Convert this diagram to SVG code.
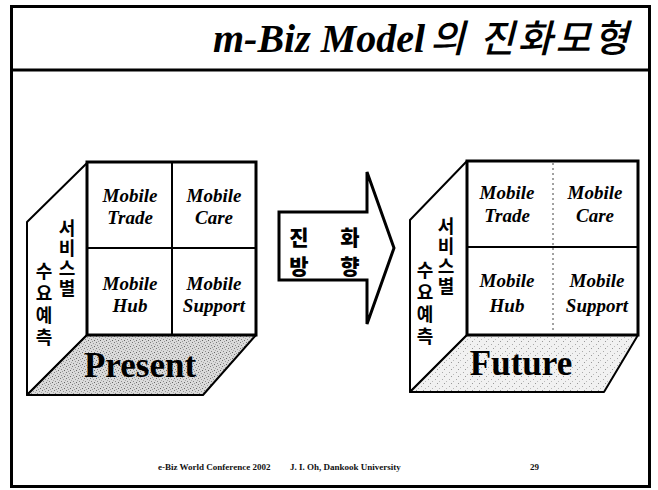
<svg xmlns="http://www.w3.org/2000/svg" width="658" height="490" viewBox="0 0 658 490">
  <defs>
    <!-- stippled floor of the "Present" box -->
    <pattern id="stipple" width="6" height="6" patternUnits="userSpaceOnUse">
      <rect width="6" height="6" fill="#dadada"/>
      <rect x="0" y="0" width="1" height="1" fill="#777"/>
      <rect x="3" y="1" width="1" height="1" fill="#999"/>
      <rect x="1" y="3" width="1" height="1" fill="#888"/>
      <rect x="4" y="4" width="1" height="1" fill="#666"/>
      <rect x="5" y="2" width="1" height="1" fill="#aaa"/>
      <rect x="2" y="5" width="1" height="1" fill="#999"/>
    </pattern>
    <!-- lighter stipple for the "Future" floor -->
    <pattern id="stippleLight" width="7" height="7" patternUnits="userSpaceOnUse">
      <rect width="7" height="7" fill="#f1f1f1"/>
      <rect x="1" y="1" width="1" height="1" fill="#aaa"/>
      <rect x="5" y="3" width="1" height="1" fill="#bbb"/>
      <rect x="3" y="5" width="1" height="1" fill="#999"/>
    </pattern>
  </defs>
  <style>
    .frame { fill: none; stroke: #000; stroke-width: 3; }
    .face { fill: #fff; stroke: #000; stroke-width: 2; stroke-linejoin: round; }
    .front { fill: #fff; stroke: #000; stroke-width: 3; }
    .div { stroke: #000; stroke-width: 2; }
    .dotted { stroke: #444; stroke-width: 1; stroke-dasharray: 2 3; }
    .cell { font-family: "Liberation Serif", serif; font-weight: bold; font-style: italic; font-size: 19px; text-anchor: middle; fill: #000; }
    .floor { font-family: "Liberation Serif", serif; font-weight: bold; font-size: 35px; text-anchor: middle; fill: #000; }
    .ko { font-family: "Noto Sans CJK KR", sans-serif; font-weight: bold; font-size: 18px; fill: #000; writing-mode: vertical-rl; }
    .arrowko { font-family: "Noto Sans CJK KR", sans-serif; font-weight: 900; font-size: 21px; text-anchor: middle; fill: #000; }
    .foot { font-family: "Liberation Serif", serif; font-weight: bold; font-size: 9px; fill: #111; }
  </style>

  <!-- slide frame and title bar -->
  <g id="frame">
    <rect class="frame" x="11.5" y="6.5" width="638" height="480"/>
    <line class="frame" x1="11" y1="70" x2="650" y2="70"/>
  </g>
  <g id="title">
    <text y="52" fill="#000">
      <tspan x="213" font-family="Liberation Serif, serif" font-weight="bold" font-style="italic" font-size="40">m-Biz Model</tspan>
      <tspan x="430" font-family="Noto Sans CJK KR, sans-serif" font-style="italic" font-weight="500" font-size="38" letter-spacing="3">의 진화모형</tspan>
    </text>
  </g>

  <!-- current service model box -->
  <g id="present-box">
    <polygon class="face" points="87,163 27,222 27,395 87,335"/>
    <polygon class="face" points="87,335 256,335 203,395 27,395" style="fill:url(#stipple)"/>
    <rect class="front" x="87" y="162" width="169" height="173"/>
    <line class="div" x1="172" y1="162" x2="172" y2="335"/>
    <line class="div" x1="87" y1="248" x2="256" y2="248"/>
    <text class="cell" x="130" y="202">Mobile</text>
    <text class="cell" x="130" y="224">Trade</text>
    <text class="cell" x="214" y="202">Mobile</text>
    <text class="cell" x="214" y="224">Care</text>
    <text class="cell" x="130" y="290">Mobile</text>
    <text class="cell" x="130" y="312">Hub</text>
    <text class="cell" x="214" y="290">Mobile</text>
    <text class="cell" x="214" y="312">Support</text>
    <text class="ko" x="67" y="219" letter-spacing="2">서비스별</text>
    <text class="ko" x="44" y="262" letter-spacing="4">수요예측</text>
    <text class="floor" x="140" y="377">Present</text>
  </g>

  <!-- evolution direction arrow -->
  <g id="direction-arrow">
    <polygon class="frame" points="279,212 367,212 367,172 394,248 367,324 367,280 279,280" style="fill:#fff"/>
    <text class="arrowko" x="299" y="245">진</text>
    <text class="arrowko" x="350" y="245">화</text>
    <text class="arrowko" x="299" y="274">방</text>
    <text class="arrowko" x="350" y="274">향</text>
  </g>

  <!-- future service model box -->
  <g id="future-box">
    <polygon class="face" points="467,161 410,220 410,392 467,335"/>
    <polygon class="face" points="467,335 638,335 604,392 410,392" style="fill:url(#stippleLight)"/>
    <rect class="front" x="467" y="161" width="171" height="174"/>
    <line class="dotted" x1="553" y1="163" x2="553" y2="333"/>
    <line class="div" x1="467" y1="247" x2="638" y2="247"/>
    <text class="cell" x="507" y="199">Mobile</text>
    <text class="cell" x="507" y="222">Trade</text>
    <text class="cell" x="595" y="199">Mobile</text>
    <text class="cell" x="595" y="222">Care</text>
    <text class="cell" x="507" y="287">Mobile</text>
    <text class="cell" x="507" y="312">Hub</text>
    <text class="cell" x="597" y="287">Mobile</text>
    <text class="cell" x="597" y="312">Support</text>
    <text class="ko" x="446" y="217" letter-spacing="2">서비스별</text>
    <text class="ko" x="425" y="261" letter-spacing="4">수요예측</text>
    <text class="floor" x="521" y="375">Future</text>
  </g>

  <!-- footer -->
  <g id="footer">
    <text class="foot" x="158" y="470">e-Biz World Conference 2002</text>
    <text class="foot" x="290" y="470">J. I. Oh, Dankook University</text>
    <text class="foot" x="530" y="470">29</text>
  </g>
</svg>
